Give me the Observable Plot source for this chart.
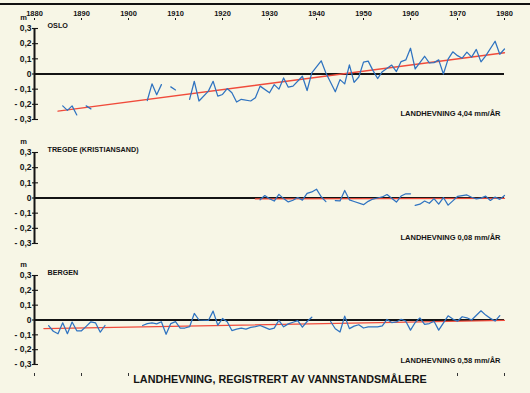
<!DOCTYPE html>
<html>
<head>
<meta charset="utf-8">
<script src="https://cdn.jsdelivr.net/npm/d3@7"></script>
<script src="https://cdn.jsdelivr.net/npm/@observablehq/plot@0.6"></script>
<style>
  html, body { margin: 0; padding: 0; background: #f7f6e6; }
  #wrap { position: relative; width: 530px; height: 393px; background: #f7f6e6; overflow: hidden;
          font-family: "Liberation Sans", Arial, Helvetica, sans-serif; }
  #topline { position: absolute; left: 0; top: 3px; width: 530px; height: 2px; background: #111; }
  .panel { position: absolute; left: 0; }
  #title { position: absolute; left: 15px; width: 530px; top: 373px; text-align: center;
           font-size: 10.8px; line-height: 13px; font-weight: bold; color: #151515; }
  #title span { background: #f7f6e6; padding: 0 3px; }
</style>
</head>
<body>
<div id="wrap">
  <div id="topline"></div>
  <div id="p1" class="panel" style="top:0px"></div>
  <div id="p2" class="panel" style="top:124px"></div>
  <div id="p3" class="panel" style="top:247px"></div>
  <div id="title"><span></span></div>
</div>
<script>
// ---- axes / tick labels ----
const xTicks = [1880, 1890, 1900, 1910, 1920, 1930, 1940, 1950, 1960, 1970, 1980];
const yTicks = [-0.3, -0.2, -0.1, 0, 0.1, 0.2, 0.3];
const unitLabel = "m";
const titleText = "LANDHEVNING, REGISTRERT AV VANNSTANDSMÅLERE";

// ---- Oslo ----
const osloName = "OSLO";
const osloRate = "4,04";
const osloYears = [1886, 1887, 1888, 1889, 1890, 1891, 1892, 1893,
  1904, 1905, 1906, 1907, 1908, 1909, 1910, 1911,
  1913, 1914, 1915, 1917, 1918, 1919, 1920, 1921, 1922, 1923, 1924, 1926, 1927, 1928,
  1930, 1931, 1932, 1933, 1934, 1935, 1937, 1938, 1939, 1941, 1942, 1944, 1945, 1946,
  1947, 1948, 1949, 1950, 1951, 1952, 1953, 1954, 1956, 1957, 1958, 1959, 1960, 1961,
  1963, 1964, 1965, 1966, 1967, 1968, 1969, 1970, 1971, 1972, 1973, 1974, 1975, 1976,
  1978, 1979, 1980];
const osloLevels = [-0.21, -0.24, -0.21, -0.27, null, -0.21, -0.23, null,
  -0.175, -0.065, -0.137, -0.07, null, -0.085, -0.105, null,
  -0.167, -0.048, -0.178, -0.113, -0.048, -0.146, -0.135, -0.096, -0.124, -0.185, -0.167, -0.178, -0.157, -0.08,
  -0.124, -0.07, -0.10, -0.026, -0.087, -0.08, -0.015, -0.109, 0.007, 0.087, 0.007, -0.117, -0.037, -0.065,
  0.06, -0.055, -0.02, 0.078, 0.085, 0.024, -0.03, 0.015, 0.059, 0.016, 0.082, 0.093, 0.17, 0.033,
  0.117, 0.074, 0.075, 0.093, 0.0, 0.098, 0.146, 0.121, 0.104, 0.144, 0.111, 0.162, 0.08, 0.12,
  0.216, 0.13, 0.165];
const osloTrendYears = [1885, 1980];
const osloTrendLevels = [-0.245, 0.14];

// ---- Tregde (Kristiansand) ----
const tregdeName = "TREGDE (KRISTIANSAND)";
const tregdeRate = "0,08";
const tregdeYears = [1928, 1929, 1930, 1931, 1932, 1933, 1934, 1935, 1936, 1937, 1938, 1939, 1940, 1941, 1942, 1943,
  1944, 1945, 1946, 1947, 1948, 1950, 1951, 1952, 1953, 1954, 1955, 1957, 1958, 1959, 1960, 1960.5,
  1961, 1962, 1963, 1964, 1965, 1966, 1967, 1968, 1969, 1970, 1971, 1972, 1973, 1974, 1975, 1976,
  1977, 1978, 1979, 1980];
const tregdeLevels = [-0.012, 0.016, -0.005, -0.02, 0.024, -0.004, -0.026, -0.015, 0.003, -0.014, 0.03, 0.04, 0.058, 0.008, -0.024, null,
  -0.017, -0.019, 0.05, -0.012, -0.023, -0.044, -0.022, -0.007, 0.0, 0.007, 0.023, -0.027, 0.013, 0.028, 0.028, null,
  -0.048, -0.041, -0.02, -0.035, -0.004, -0.04, 0.003, -0.047, -0.019, 0.01, 0.015, 0.02, 0.005, -0.006, -0.001, 0.012,
  -0.016, 0.006, -0.009, 0.017];
const tregdeTrendYears = [1927, 1980];
const tregdeTrendLevels = [-0.006, -0.002];

// ---- Bergen ----
const bergenName = "BERGEN";
const bergenRate = "0,58";
const bergenYears = [1883, 1884, 1885, 1886, 1887, 1888, 1889, 1890, 1891, 1892, 1893, 1894, 1895, 1896,
  1903, 1904, 1905, 1906, 1907, 1908, 1909, 1910, 1911, 1912, 1913, 1914, 1915, 1917, 1918, 1919,
  1920, 1921, 1922, 1923, 1924, 1925, 1926, 1927, 1928, 1929, 1930, 1931, 1932, 1933, 1934, 1935,
  1936, 1937, 1938, 1939, 1940,
  1943, 1944, 1945, 1946, 1947, 1948, 1949, 1950, 1951, 1953, 1954, 1955, 1956, 1957, 1958, 1959,
  1960, 1961, 1962, 1963, 1964, 1965, 1966, 1968, 1969, 1970, 1971, 1972, 1973, 1975, 1976, 1977,
  1978, 1979];
const bergenLevels = [-0.038, -0.076, -0.093, -0.019, -0.092, -0.014, -0.073, -0.073, -0.043, -0.012, -0.02, -0.082, -0.037, null,
  -0.037, -0.025, -0.02, -0.026, -0.012, -0.096, -0.024, -0.011, -0.055, -0.054, -0.045, 0.044, 0.0, -0.003, 0.06, -0.035,
  0.01, -0.012, -0.071, -0.062, -0.055, -0.061, -0.05, -0.045, -0.037, -0.05, -0.063, -0.055, -0.002, -0.046, -0.026, -0.015,
  -0.004, -0.048, -0.01, 0.019, null,
  -0.01, -0.059, -0.081, 0.026, -0.058, -0.041, -0.032, -0.054, -0.047, -0.047, -0.04, 0.004, -0.017, -0.013, 0.005, -0.008,
  -0.068, -0.017, 0.014, -0.03, -0.024, -0.008, -0.068, 0.028, 0.006, -0.008, 0.022, 0.015, 0.0, 0.062, 0.033, 0.011,
  -0.007, 0.029];
const bergenTrendYears = [1882, 1980];
const bergenTrendLevels = [-0.058, -0.002];

// ---- drawing ----
const FONT = "'Liberation Sans', Arial, Helvetica, sans-serif";
const INK = "#141414";
const BLUE = "#2f73c0";
const RED = "#f04b3b";
const fmtY = d => d === 0 ? "0" : (d < 0 ? "- " : "") + Math.abs(d).toFixed(1).replace(".", ",");
const rows = (ys, vs) => ys.map((y, i) => ({year: y, level: vs[i]}));

function panel({name, rate, years, levels, trendYears, trendLevels, top = false, bottom = false}) {
  const height = bottom ? 140 : 130;
  const marks = [
    Plot.ruleY([0], {stroke: INK, strokeWidth: 2}),
    Plot.ruleX([xTicks[0]], {y1: yTicks[0], y2: yTicks[yTicks.length - 1], stroke: INK, strokeWidth: 2}),
    Plot.axisY({ticks: yTicks, tickSize: 6, dx: 4, fill: "none", stroke: INK, strokeWidth: 1.1, label: null}),
    Plot.axisY({ticks: yTicks, tickSize: 0, tickPadding: 3, tickFormat: fmtY, fill: INK,
                fontSize: 8.5, fontWeight: "bold", label: null}),
    Plot.line(rows(trendYears, trendLevels), {x: "year", y: "level", stroke: RED, strokeWidth: 1.3}),
    Plot.line(rows(years, levels), {x: "year", y: "level", stroke: BLUE, strokeWidth: 1.25, strokeLinejoin: "round"}),
    Plot.text([unitLabel], {frameAnchor: "top-left", dx: -11, dy: -2, textAnchor: "middle", lineAnchor: "middle",
                            fontSize: 7.5, fontWeight: "bold", fill: INK}),
    Plot.text([name], {frameAnchor: "top-left", dx: 13, dy: 6, textAnchor: "start", lineAnchor: "middle",
                       fontSize: 7.2, fontWeight: "bold", fill: INK}),
    Plot.text(["LANDHEVNING " + rate + " mm/ÅR"], {frameAnchor: "top-right", dx: -4, dy: 94.5, textAnchor: "end",
                       lineAnchor: "middle", fontSize: 7.5, fontWeight: "bold", fill: INK})
  ];
  if (top) marks.push(Plot.axisX({anchor: "top", ticks: xTicks, tickSize: 2, tickPadding: 2, tickFormat: d => String(d),
                                  fontSize: 7.5, fontWeight: "bold", fill: INK, stroke: INK, label: null}));
  if (bottom) marks.push(Plot.axisX({anchor: "bottom", ticks: xTicks, tickSize: 3, fill: "none", stroke: "#333", label: null}));
  return Plot.plot({
    width: 530,
    height,
    marginLeft: 34,
    marginRight: 26,
    marginTop: 19,
    insetTop: 9,
    marginBottom: bottom ? 14 : 11,
    insetBottom: bottom ? 9 : 0,
    x: {domain: [xTicks[0], xTicks[xTicks.length - 1]], axis: (top || bottom) ? undefined : null},
    y: {domain: [yTicks[0], yTicks[yTicks.length - 1]]},
    style: {background: "transparent", fontFamily: FONT, overflow: "visible", color: INK},
    marks
  });
}

document.getElementById("p1").appendChild(panel({name: osloName, rate: osloRate, years: osloYears, levels: osloLevels,
  trendYears: osloTrendYears, trendLevels: osloTrendLevels, top: true}));
document.getElementById("p2").appendChild(panel({name: tregdeName, rate: tregdeRate, years: tregdeYears, levels: tregdeLevels,
  trendYears: tregdeTrendYears, trendLevels: tregdeTrendLevels}));
document.getElementById("p3").appendChild(panel({name: bergenName, rate: bergenRate, years: bergenYears, levels: bergenLevels,
  trendYears: bergenTrendYears, trendLevels: bergenTrendLevels, bottom: true}));
document.querySelector("#title span").textContent = titleText;
</script>
</body>
</html>
